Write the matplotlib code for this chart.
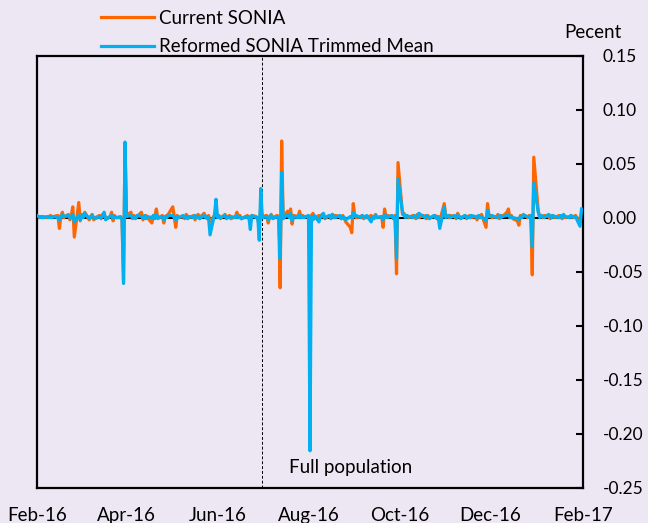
import numpy as np
import pandas as pd
import matplotlib
matplotlib.use("Agg")
import matplotlib.pyplot as plt
import matplotlib.dates as mdates

plt.rcParams['font.family'] = ['Lato', 'DejaVu Sans']
plt.rcParams['axes.unicode_minus'] = False

# daily values (percent), one list per month of business days
current_sonia = (
    # Feb-16
    [0.001, 0.000, 0.001, 0.000, 0.001, 0.000, 0.001, 0.002, 0.000, 0.001, 0.002,
     -0.010, 0.001, 0.005, 0.000, 0.003, -0.002, 0.002, 0.010, -0.018, 0.014]
    # Mar-16
    + [-0.003, 0.003, 0.001, 0.005, -0.002, 0.001, 0.003, -0.002, 0.000, 0.002, -0.001,
       0.003, 0.004, -0.001, 0.001, 0.005, -0.003, 0.002, 0.000, 0.001, -0.002, -0.058, 0.066]
    # Apr-16
    + [0.002, 0.005, -0.001, 0.002, 0.000, 0.001, 0.005, -0.002, 0.001, 0.002, 0.000,
       -0.005, 0.002, 0.001, 0.008, -0.001, 0.002, -0.005, 0.001, 0.002, 0.003]
    # May-16
    + [0.010, 0.001, -0.009, 0.002, 0.000, 0.001, -0.001, 0.003, 0.001, 0.000, 0.002,
       -0.002, 0.001, 0.003, 0.000, 0.004, 0.001, -0.001, 0.002, -0.004, 0.002, 0.005]
    # Jun-16
    + [0.001, 0.002, -0.001, 0.003, 0.000, 0.001, 0.002, -0.001, 0.001, 0.005, 0.000,
       0.002, -0.001, 0.001, 0.002, 0.000, -0.003, 0.002, 0.001, -0.002, -0.006, 0.010]
    # Jul-16
    + [0.001, 0.002, -0.005, 0.001, 0.003, 0.000, 0.002, 0.001, -0.065, 0.071, 0.000,
       0.006, 0.002, 0.008, -0.006, 0.002, 0.001, 0.006, 0.000, 0.002, 0.001]
    # Aug-16
    + [0.001, 0.000, 0.002, 0.004, -0.001, 0.002, 0.000, 0.003, 0.001, -0.001, 0.002,
       0.001, 0.003, 0.000, 0.002, 0.001, -0.001, 0.002, -0.001, -0.004, -0.009, -0.014, 0.013]
    # Sep-16
    + [0.002, 0.000, 0.001, 0.002, -0.001, 0.001, 0.000, 0.002, -0.001, 0.001, 0.003,
       0.000, 0.001, -0.009, 0.008, 0.000, 0.002, 0.001, -0.001, 0.002, -0.052, 0.051]
    # Oct-16
    + [0.003, 0.004, 0.001, 0.002, 0.000, 0.002, 0.001, -0.001, 0.003, 0.000, 0.002,
       0.001, -0.001, 0.002, 0.000, 0.001, 0.002, -0.001, 0.001, -0.003, 0.013]
    # Nov-16
    + [0.001, 0.002, 0.000, 0.002, 0.001, -0.001, 0.004, 0.001, 0.000, 0.002, -0.001,
       0.001, 0.002, 0.000, 0.001, -0.002, 0.002, 0.001, 0.003, -0.009, 0.013, 0.002]
    # Dec-16
    + [0.002, 0.000, 0.001, 0.003, -0.001, 0.002, 0.001, 0.005, 0.008, 0.000, 0.002,
       -0.001, -0.003, -0.007, 0.002, 0.001, 0.003, 0.000, 0.002, 0.001, -0.053, 0.056]
    # Jan-17
    + [0.006, 0.001, 0.002, 0.000, 0.002, 0.001, -0.001, 0.002, 0.001, 0.000, 0.002,
       0.001, -0.001, 0.002, 0.000, 0.001, 0.002, 0.000, 0.001, 0.002, -0.004, 0.005]
)

reformed_sonia = (
    # Feb-16
    [0.002, 0.001, 0.000, 0.001, 0.000, 0.001, 0.000, 0.001, 0.000, 0.001, 0.000,
     -0.002, 0.000, 0.003, 0.001, 0.002, 0.000, 0.001, 0.003, -0.004, 0.002]
    # Mar-16
    + [-0.002, 0.002, 0.000, 0.004, -0.001, 0.001, 0.002, 0.000, -0.001, 0.001, 0.000,
       0.002, 0.005, -0.002, 0.001, 0.002, 0.000, 0.001, 0.000, 0.000, -0.001, -0.061, 0.070]
    # Apr-16
    + [0.001, 0.002, 0.000, 0.001, -0.001, 0.002, 0.001, 0.000, 0.002, -0.001, 0.001,
       0.000, 0.002, -0.001, 0.003, 0.000, 0.001, -0.002, 0.001, 0.000, 0.002]
    # May-16
    + [0.002, 0.000, -0.002, 0.001, 0.000, 0.002, 0.000, 0.001, -0.001, 0.001, 0.000,
       0.002, 0.000, 0.001, -0.001, 0.002, 0.000, 0.001, 0.000, -0.016, 0.003, 0.017]
    # Jun-16
    + [0.000, 0.001, 0.000, 0.002, -0.001, 0.001, 0.000, 0.001, 0.000, 0.002, 0.000,
       0.001, -0.001, 0.001, 0.000, 0.001, -0.011, 0.002, 0.000, 0.000, -0.021, 0.027]
    # Jul-16
    + [0.000, 0.001, -0.002, 0.000, 0.002, -0.001, 0.001, 0.000, -0.038, 0.042, -0.001,
       0.003, 0.000, 0.004, -0.003, 0.001, 0.000, 0.003, 0.000, 0.001, 0.000]
    # Aug-16
    + [0.002, -0.216, 0.001, -0.002, 0.002, -0.004, 0.001, 0.002, 0.004, 0.000, 0.002,
       -0.001, 0.003, 0.001, 0.000, 0.002, -0.001, 0.001, 0.000, -0.002, 0.001, 0.000, 0.005]
    # Sep-16
    + [0.001, 0.002, 0.000, 0.002, 0.001, 0.000, 0.002, -0.004, 0.001, -0.001, 0.002,
       0.000, 0.001, -0.002, 0.003, 0.001, 0.000, 0.002, -0.001, 0.001, -0.038, 0.036]
    # Oct-16
    + [0.005, 0.002, 0.000, 0.002, 0.001, 0.000, 0.002, 0.001, 0.000, 0.004, 0.001,
       0.000, 0.002, 0.001, -0.001, 0.002, 0.000, 0.001, 0.000, -0.010, 0.010]
    # Nov-16
    + [0.000, 0.001, 0.002, 0.000, 0.002, 0.000, 0.002, 0.001, -0.001, 0.002, 0.000,
       0.001, 0.000, 0.002, 0.001, 0.000, 0.002, 0.000, 0.001, -0.003, 0.007, 0.001]
    # Dec-16
    + [0.001, 0.002, 0.000, 0.001, 0.002, 0.000, 0.001, 0.002, 0.003, 0.000, 0.001,
       0.000, -0.001, -0.002, 0.001, 0.000, 0.002, 0.001, 0.000, 0.002, -0.027, 0.032]
    # Jan-17
    + [0.005, 0.000, 0.002, 0.001, 0.000, 0.003, 0.001, 0.000, 0.002, 0.001, 0.000,
       0.002, 0.000, 0.003, 0.001, 0.000, 0.002, 0.001, 0.000, 0.001, -0.008, 0.008]
)

dates = pd.bdate_range("2016-02-01", "2017-01-31")
yticks = [0.15, 0.10, 0.05, 0.00, -0.05, -0.10, -0.15, -0.20, -0.25]

bg = "#EDE7F3"
orange = "#FF6600"
blue = "#00B0F0"

fig = plt.figure(figsize=(6.48, 5.23), dpi=100, facecolor=bg)
ax = fig.add_axes([37/648, 1 - 487.5/523, 546/648, 431.8/523])
ax.set_facecolor(bg)

ax.axhline(0, color="black", lw=1.5, zorder=1)
ax.axvline(pd.Timestamp("2016-07-01"), color="black", lw=0.7,
           ls=(0, (3, 2)), zorder=1)
ax.plot(dates, current_sonia, color=orange, lw=2.3, zorder=2,
        label="Current SONIA")
ax.plot(dates, reformed_sonia, color=blue, lw=2.3, zorder=3,
        label="Reformed SONIA Trimmed Mean")

ax.set_xlim(pd.Timestamp("2016-02-01"), pd.Timestamp("2017-02-01"))
ax.set_ylim(-0.25, 0.15)

ax.xaxis.set_major_locator(mdates.MonthLocator(bymonth=[2, 4, 6, 8, 10, 12]))
ax.xaxis.set_major_formatter(mdates.DateFormatter("%b-%y"))
ax.tick_params(axis="x", length=0, pad=14, labelsize=13.5)

ax.yaxis.tick_right()
ax.set_yticks(yticks)
ax.set_yticklabels([f"{v:.2f}" for v in yticks])
ax.tick_params(axis="y", direction="in", length=5, width=1.5, pad=14,
               labelsize=12.5)

for s in ax.spines.values():
    s.set_linewidth(1.6)

ax.text(0.575, 0.046, "Full population", transform=ax.transAxes,
        ha="center", va="center", fontsize=13.5)
fig.text(593/648, 1 - 33/523, "Pecent", ha="center", va="center", fontsize=13.5)

fig.legend(loc="upper left", bbox_to_anchor=(101/648, 1 - 10/523), frameon=False,
           fontsize=13.5, handlelength=2.8, handletextpad=0.28, labelspacing=0.6,
           borderpad=0, borderaxespad=0)

fig.savefig("out.png", dpi=100, facecolor=bg)
